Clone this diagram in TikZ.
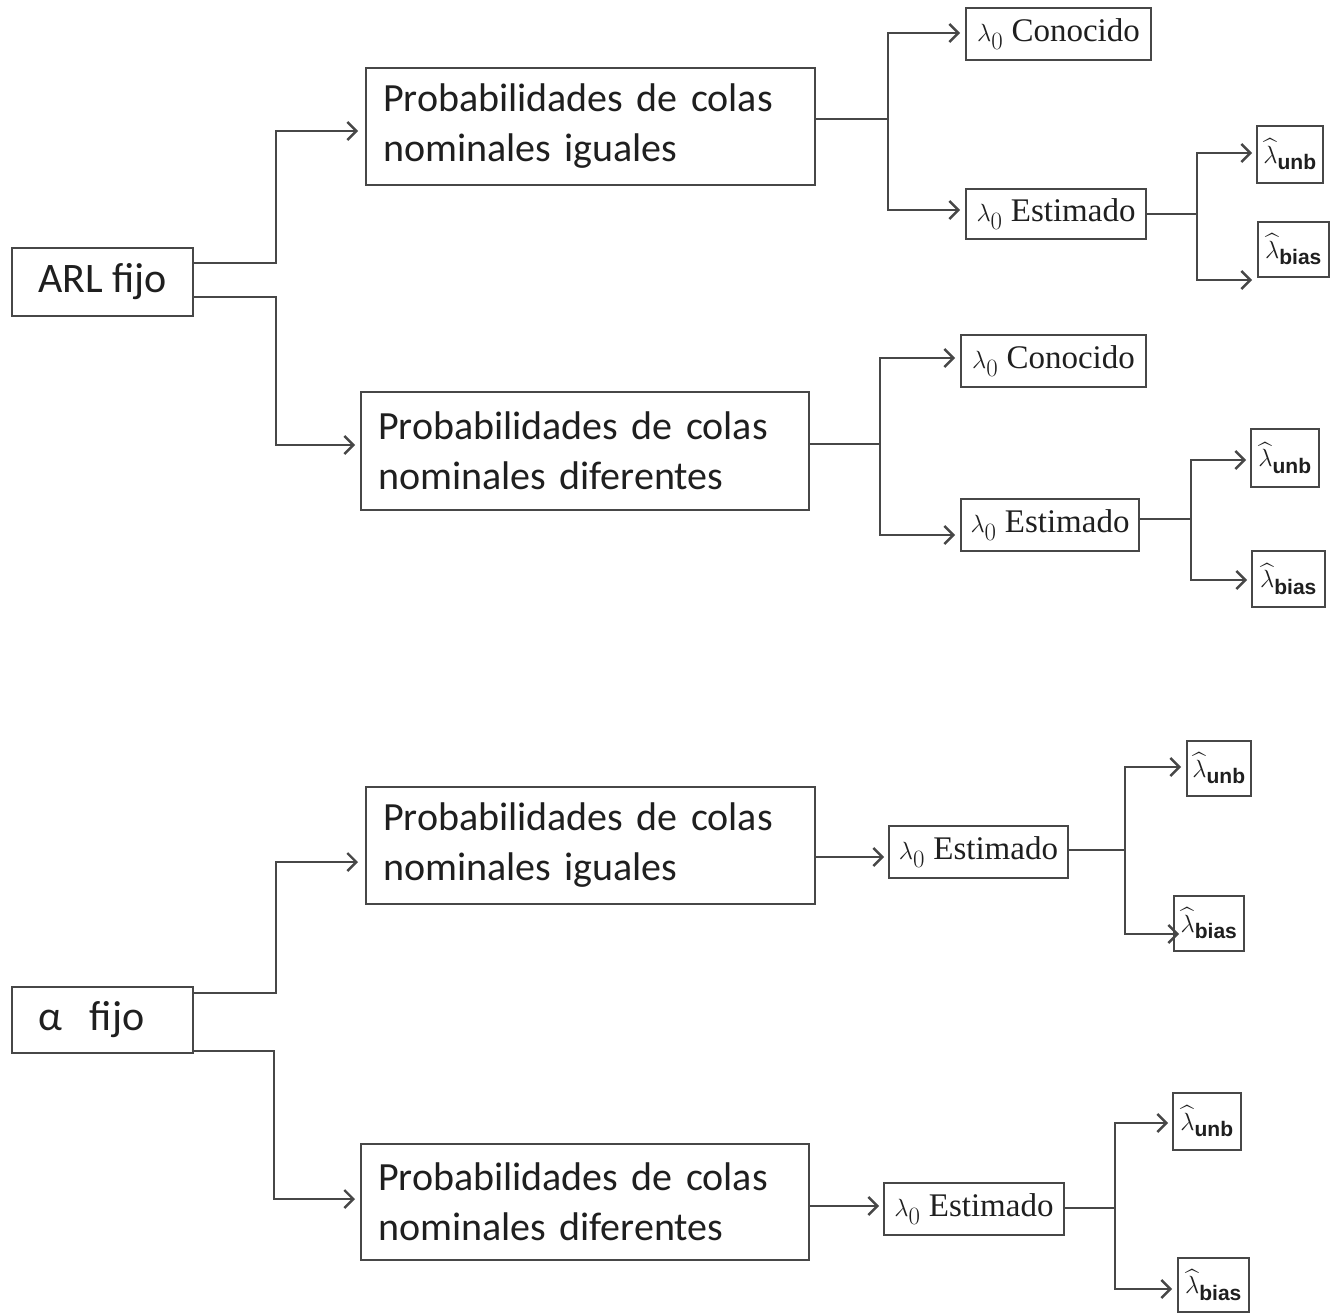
\documentclass[tikz,border=0pt]{standalone}
\usepackage{amsmath}
\usepackage{fontspec}
\setmainfont{Liberation Serif}
\setsansfont{Carlito}
\newfontfamily\arialfont{Liberation Sans}
\usetikzlibrary{arrows.meta,calc}
\newcommand{\lhat}[1]{$\widehat{\lambda}_{\text{\arialfont\bfseries #1}}$}
\tikzset{
  bx/.style={draw=black!72, line width=2pt, fill=white, inner sep=0pt, text=black!88},
  pbox/.style={bx, font=\sffamily\fontsize{40}{50}\selectfont, align=left},
  sbox/.style={bx, font=\sffamily\fontsize{42}{48}\selectfont},
  lbox/.style={bx, font=\fontsize{33}{38}\selectfont},
  hbox/.style={bx, font=\fontsize{30}{34}\selectfont},
  conn/.style={draw=black!72, line width=2.6pt},
  arr/.style={conn, -{Straight Barb[length=9pt,width=18pt,line width=2.4pt]}},
}
\begin{document}
\begin{tikzpicture}[x=1pt,y=-1pt]
\useasboundingbox (0,0) rectangle (1333,1313);
% ---------- upper tree ----------
\node[sbox, minimum width=181, minimum height=68] (ARL) at (102.5,282) {ARL fijo};
\node[pbox, minimum width=449, minimum height=117, text width=415] (PI1) at (590.5,126.5) {Probabilidades de colas\\nominales iguales};
\node[pbox, minimum width=448, minimum height=118, text width=414] (PD1) at (585,451) {Probabilidades de colas\\nominales diferentes};
\node[lbox, minimum width=185, minimum height=52] (C1) at (1058.5,34) {$\lambda_0$ Conocido};
\node[lbox, minimum width=180, minimum height=50] (E1) at (1056,214) {$\lambda_0$ Estimado};
\node[hbox, minimum width=66, minimum height=57] (U1) at (1290,154.5) {\lhat{unb}};
\node[hbox, minimum width=71, minimum height=55] (B1) at (1293.5,249.5) {\lhat{bias}};
\node[lbox, minimum width=185, minimum height=52] (C2) at (1053.5,361) {$\lambda_0$ Conocido};
\node[lbox, minimum width=178, minimum height=52] (E2) at (1050,525) {$\lambda_0$ Estimado};
\node[hbox, minimum width=68, minimum height=58] (U2) at (1285,458) {\lhat{unb}};
\node[hbox, minimum width=73, minimum height=56] (B2) at (1288.5,579) {\lhat{bias}};

\draw[arr] ($(ARL.east)+(0,-19)$) -| (276,131) -- ($(PI1.west)+(-7,4.5)$);
\draw[arr] ($(ARL.east)+(0,15)$) -| (276,445) -- ($(PD1.west)+(-5,-6)$);
\coordinate (j1) at (888,119);
\draw[conn] ($(PI1.east)+(0,-7.5)$) -- (j1);
\draw[arr] (j1) |- ($(C1.west)+(-5,-1)$);
\draw[arr] (j1) |- ($(E1.west)+(-5,-4)$);
\coordinate (j2) at (1197,214);
\draw[conn] (E1.east) -- (j2);
\draw[arr] (j2) |- ($(U1.west)+(-4,-1.5)$);
\draw[arr] (j2) |- ($(B1.west)+(-5,30.5)$);
\coordinate (j3) at (880,444);
\draw[conn] ($(PD1.east)+(0,-7)$) -- (j3);
\draw[arr] (j3) |- ($(C2.west)+(-5,-3)$);
\draw[arr] (j3) |- ($(E2.west)+(-5,10)$);
\coordinate (j4) at (1191,519);
\draw[conn] ($(E2.east)+(0,-6)$) -- (j4);
\draw[arr] (j4) |- ($(U2.west)+(-4,2)$);
\draw[arr] (j4) |- ($(B2.west)+(-4,1)$);

% ---------- lower tree ----------
\node[sbox, minimum width=181, minimum height=66, text width=129, align=left] (AF) at (102.5,1020) {α~~fijo};
\node[pbox, minimum width=449, minimum height=117, text width=415] (PI2) at (590.5,845.5) {Probabilidades de colas\\nominales iguales};
\node[pbox, minimum width=448, minimum height=116, text width=414] (PD2) at (585,1202) {Probabilidades de colas\\nominales diferentes};
\node[lbox, minimum width=179, minimum height=52] (E3) at (978.5,852) {$\lambda_0$ Estimado};
\node[hbox, minimum width=64, minimum height=55] (U3) at (1219,768.5) {\lhat{unb}};
\node[hbox, minimum width=70, minimum height=55] (B3) at (1209,923.5) {\lhat{bias}};
\node[lbox, minimum width=180, minimum height=52] (E4) at (974,1209) {$\lambda_0$ Estimado};
\node[hbox, minimum width=68, minimum height=57] (U4) at (1207,1121.5) {\lhat{unb}};
\node[hbox, minimum width=71, minimum height=54] (B4) at (1213.5,1285) {\lhat{bias}};

\draw[arr] ($(AF.east)+(0,-27)$) -| (276,862) -- ($(PI2.west)+(-7,16.5)$);
\draw[arr] ($(AF.east)+(0,31)$) -| (274,1199) -- ($(PD2.west)+(-5,-3)$);
\draw[arr] ($(PI2.east)+(0,11.5)$) -- ($(E3.west)+(-4,5)$);
\coordinate (j5) at (1125,850);
\draw[conn] ($(E3.east)+(0,-2)$) -- (j5);
\draw[arr] (j5) |- ($(U3.west)+(-5,-1.5)$);
\draw[arr] (j5) |- ($(B3.west)+(6,10.5)$);
\draw[arr] ($(PD2.east)+(0,4)$) -- ($(E4.west)+(-4,-3)$);
\coordinate (j6) at (1115,1208);
\draw[conn] ($(E4.east)+(0,-1)$) -- (j6);
\draw[arr] (j6) |- ($(U4.west)+(-4,1.5)$);
\draw[arr] (j6) |- ($(B4.west)+(-5,4)$);
\end{tikzpicture}
\end{document}
